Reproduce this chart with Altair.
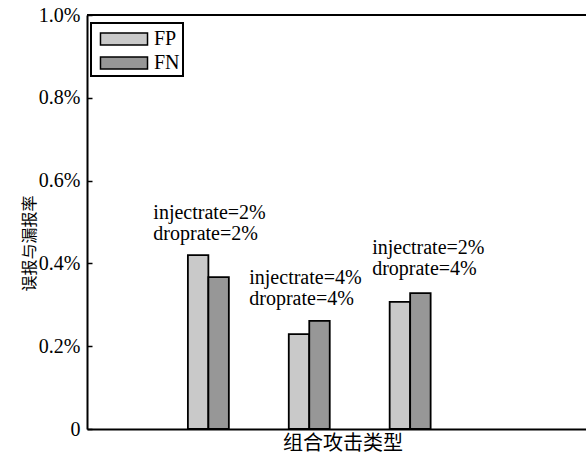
import altair as alt
import pandas as pd

# ---- data ----
groups = ["inject2_drop2", "inject4_drop4", "inject2_drop4"]
inject_labels = ["injectrate=2%", "injectrate=4%", "injectrate=2%"]
drop_labels = ["droprate=2%", "droprate=4%", "droprate=4%"]
metrics = ["FP", "FN"]
fp_values = [0.420, 0.229, 0.307]   # percent
fn_values = [0.367, 0.261, 0.328]   # percent
y_ticks = [0, 0.2, 0.4, 0.6, 0.8, 1.0]

# ---- styles ----
SERIF = "Liberation Serif"
CJK = "Liberation Serif, Noto Sans CJK SC"
colors = ["#c9c9c9", "#979797"]
label_dx = [-55, -60, -38]
label_dy = [-32, -33, -35]
x_domain = ["__left_gap__"] + groups   # empty leading slot leaves the gap left of the bars

rows = []
for g, a, b in zip(groups, fp_values, fn_values):
    rows.append({"group": g, "metric": "FP", "value": a})
    rows.append({"group": g, "metric": "FN", "value": b})
bars_df = pd.DataFrame(rows)

ann_df = pd.DataFrame({
    "group": groups,
    "label": [f"{i}\n{d}" for i, d in zip(inject_labels, drop_labels)],
    "top": [max(a, b) for a, b in zip(fp_values, fn_values)],
})

yscale = alt.Scale(domain=[0, 1.0], nice=False, zero=True)
xscale = alt.Scale(domain=x_domain, paddingInner=0.594, paddingOuter=0.77, align=0)

x_enc = alt.X("group:N", scale=xscale,
              axis=alt.Axis(title="组合攻击类型", labels=False, ticks=False,
                            domainColor="black", domainWidth=2,
                            titleFont=CJK, titleFontSize=20, titleFontWeight="normal",
                            titleColor="black", titlePadding=4, titleX=255.5))

bars = alt.Chart(bars_df).mark_bar(stroke="black", strokeWidth=1.8).encode(
    x=x_enc,
    xOffset=alt.XOffset("metric:N", sort=metrics,
                        scale=alt.Scale(domain=metrics, paddingInner=0, paddingOuter=0)),
    y=alt.Y("value:Q", scale=yscale,
            axis=alt.Axis(title="误报与漏报率", values=y_ticks,
                          labelExpr="datum.value == 0 ? '0' : format(datum.value, '.1f') + '%'",
                          ticks=False, tickSize=0, labelPadding=7,
                          labelFont=SERIF, labelFontSize=20, labelColor="black",
                          domainColor="black", domainWidth=2,
                          grid=True, gridColor="black", gridWidth=1.5, gridDash=[5, 2000],
                          titleFont=CJK, titleFontSize=16, titleFontWeight="normal",
                          titleColor="black", titleX=-58, titleY=228,
                          titleBaseline="middle", titleAngle=270)),
    color=alt.Color("metric:N", sort=metrics,
                    scale=alt.Scale(domain=metrics, range=colors),
                    legend=alt.Legend(title=None, orient="none", legendX=4, legendY=8,
                                      symbolType="M-2,-0.5H2V0.5H-2Z", symbolSize=553,
                                      symbolStrokeColor="black", symbolStrokeWidth=1.5,
                                      symbolOpacity=1, symbolOffset=17,
                                      labelFont=SERIF, labelFontSize=20, labelColor="black",
                                      labelOffset=17, strokeColor="black", padding=3,
                                      rowPadding=1)),
)

top_border = alt.Chart(bars_df).mark_rule(color="black", strokeWidth=2).encode(
    y=alt.value(0)
)

layers = [bars, top_border]
for i, g in enumerate(groups):
    t = alt.Chart(ann_df).transform_filter(alt.datum.group == g).mark_text(
        align="left", baseline="bottom", lineBreak="\n", lineHeight=21,
        font=SERIF, fontSize=20, color="black", dx=label_dx[i], dy=label_dy[i]
    ).encode(
        x=alt.X("group:N", scale=xscale),
        y=alt.Y("top:Q", scale=yscale),
        text="label:N",
    )
    layers.append(t)

chart = alt.layer(*layers).properties(
    width=499, height=414,
    autosize=alt.AutoSizeParams(type="none"),
    padding={"left": 87, "top": 15, "right": 0, "bottom": 27},
).configure_view(stroke=None).configure_legend(strokeWidth=2)

chart.save("out.html", embed_options={"renderer": "svg", "actions": False})
